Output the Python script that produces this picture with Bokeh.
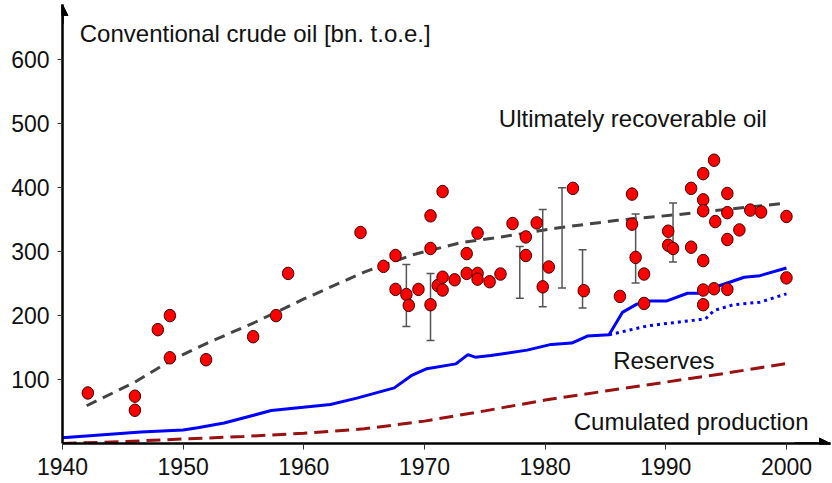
from bokeh.plotting import figure
from bokeh.models import FixedTicker, Label, Arrow, NormalHead, Range1d
from bokeh.embed import file_html
from bokeh.resources import INLINE

# ---- data ----
x_ticks = [1940, 1950, 1960, 1970, 1980, 1990, 2000]
y_ticks = [100, 200, 300, 400, 500, 600]

dot_years = [1942.1, 1946.0, 1946.0, 1947.9, 1948.9, 1948.9, 1951.9, 1955.8, 1957.7, 1958.7,
             1964.7, 1966.6, 1967.6, 1967.6, 1968.5, 1968.7, 1969.5, 1970.5, 1970.5, 1970.5,
             1971.5, 1971.1, 1971.5, 1971.5, 1972.5, 1973.5, 1973.5, 1974.4, 1974.4, 1974.4,
             1975.4, 1976.3, 1977.3, 1978.4, 1978.4, 1979.3, 1980.3, 1979.8, 1982.3, 1983.2,
             1986.2, 1987.2, 1987.2, 1987.5, 1988.2, 1988.2, 1990.2, 1990.2, 1990.6, 1992.1,
             1992.1, 1993.1, 1993.1, 1993.1, 1993.1, 1993.1, 1993.1, 1994.0, 1994.1, 1994.0,
             1995.1, 1995.1, 1995.1, 1995.1, 1996.1, 1997.0, 1997.9, 2000.0, 2000.0]
dot_values = [79, 74, 52, 178, 200, 134, 131, 167, 200, 266,
              330, 277, 294, 241, 233, 216, 241, 356, 305, 217,
              394, 247, 260, 240, 256, 297, 266, 329, 266, 257,
              253, 265, 344, 323, 294, 345, 276, 245, 399, 239,
              230, 390, 343, 291, 265, 219, 332, 310, 305, 399,
              307, 422, 381, 364, 286, 240, 217, 443, 347, 242,
              391, 361, 319, 241, 334, 365, 362, 355, 259]

err_years = [1968.5, 1970.5, 1977.9, 1979.8, 1981.4, 1983.1, 1987.5, 1990.6]
err_low = [183, 161, 227, 214, 243, 212, 251, 284]
err_high = [280, 266, 308, 366, 400, 303, 359, 376]

urr_years = [1942, 1946, 1949, 1952, 1956, 1960, 1965, 1969, 1973, 1976, 1981, 1986, 1991, 1995, 2000]
urr_values = [59, 96, 130, 157, 190, 226, 268, 295, 314, 322, 337, 349, 358, 366, 376]

res_years = [1940, 1946.5, 1950, 1951.2, 1953.4, 1957.3, 1962.2, 1964.4, 1967.5, 1968.9,
             1970.2, 1972.6, 1973.6, 1974.2, 1975.5, 1978.5, 1980.5, 1982.2, 1983.5, 1985.3,
             1986.4, 1987.6, 1988.5, 1990.1, 1991.8, 1992.9, 1994, 1996.5, 1997.8, 2000]
res_values = [9, 18, 21, 24.5, 32, 51.5, 61, 71, 87, 106,
              117, 124.5, 139, 135, 137.5, 146, 155, 157, 168, 170,
              205, 218, 223, 223, 235, 235, 244, 260, 262.5, 274.5]

res_alt_years = [1985.3, 1988.5, 1993.3, 1994, 1995.6, 1997.8, 2000]
res_alt_values = [170, 184, 195, 208, 217, 221, 234]

prod_years = [1940, 1945, 1950, 1955, 1960, 1965, 1970, 1975, 1980, 1985, 1990, 1995, 2000]
prod_values = [0, 3, 7, 11, 16, 23, 35, 51, 68, 82, 96, 110, 125]

FONT = "Liberation Sans"
X_START, X_END = 1940, 2003.65
Y_START, Y_END = 0, 686.5

p = figure(width=832, height=483, output_backend="svg", toolbar_location=None,
           x_range=Range1d(X_START, X_END), y_range=Range1d(Y_START, Y_END),
           min_border_left=62, min_border_right=2, min_border_top=4, min_border_bottom=40)
p.outline_line_color = None
p.grid.visible = False
p.background_fill_color = "white"
p.border_fill_color = "white"

for ax in (p.xaxis[0], p.yaxis[0]):
    ax.axis_line_width = 2.5
    ax.axis_line_color = "black"
    ax.major_tick_in = 0
    ax.minor_tick_line_color = None
    ax.major_tick_line_color = "#333333"
    ax.major_tick_line_width = 1
    ax.major_label_text_font = FONT
    ax.major_label_text_font_size = "23px"
    ax.major_label_text_color = "#111111"

p.xaxis.ticker = FixedTicker(ticks=x_ticks)
p.xaxis.major_tick_out = 6
p.xaxis.major_label_standoff = 8
p.yaxis.ticker = FixedTicker(ticks=y_ticks)
p.yaxis.major_tick_out = 5
p.yaxis.major_label_standoff = 8

# axis arrows
p.add_layout(Arrow(end=NormalHead(size=11, fill_color="black", line_color="black"),
                   x_start=X_START, y_start=Y_END - 30, x_end=X_START, y_end=Y_END,
                   line_width=2.5, line_color="black"))
p.add_layout(Arrow(end=NormalHead(size=11, fill_color="black", line_color="black"),
                   x_start=X_END - 3, y_start=Y_START, x_end=X_END, y_end=Y_START,
                   line_width=2.5, line_color="black"))

# curves
p.line(prod_years, prod_values, line_color="#991111", line_width=3, line_dash="14 7")
p.line(urr_years, urr_values, line_color="#444444", line_width=3, line_dash="11 7")
p.line(res_years, res_values, line_color="#0000ff", line_width=3)
p.line(res_alt_years, res_alt_values, line_color="#0000ff", line_width=3, line_dash="3 4")

# error bars
p.segment(x0=err_years, y0=err_low, x1=err_years, y1=err_high,
          line_color="#555555", line_width=1.5)
p.scatter(err_years + err_years, err_low + err_high, marker="dash", size=8,
          line_color="#555555", line_width=1.5)

# dots
p.ellipse(x=dot_years, y=dot_values, width=11.5, height=12.5,
          width_units="screen", height_units="screen",
          fill_color="#ff0000", line_color="#400000", line_width=1)

def add_label(x, y, text):
    p.add_layout(Label(x=x, y=y, text=text, text_font=FONT, text_font_size="24px",
                       text_color="#111111", text_align="left", text_baseline="alphabetic"))

add_label(1941.43, 640.6, "Conventional crude oil [bn. t.o.e.]")
add_label(1976.16, 508.7, "Ultimately recoverable oil")
add_label(1985.64, 129.8, "Reserves")
add_label(1982.37, 34.9, "Cumulated production")

open("out.html", "w").write(file_html(p, INLINE))
